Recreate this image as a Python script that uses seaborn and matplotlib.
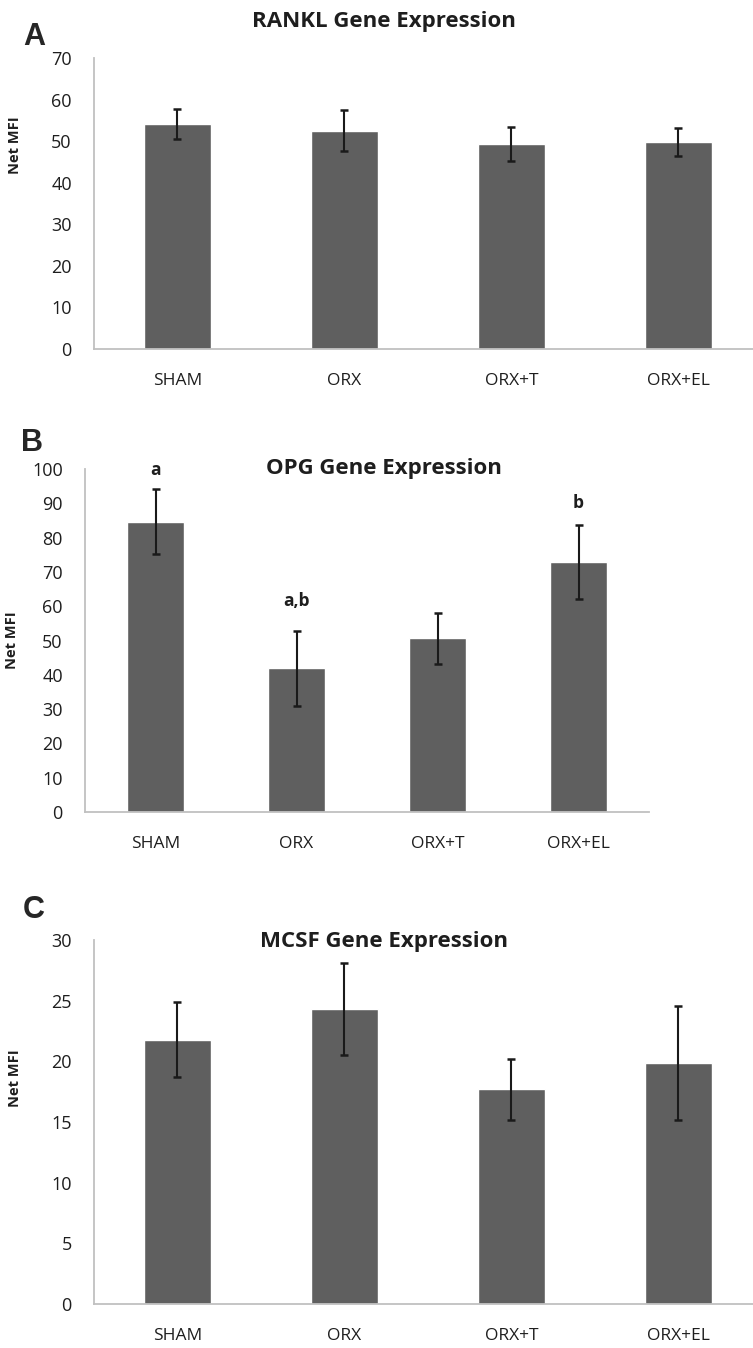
import numpy as np
import pandas as pd
import matplotlib
matplotlib.use("Agg")
import matplotlib.pyplot as plt
import seaborn as sns

# data
groups = ["SHAM", "ORX", "ORX+T", "ORX+EL"]

rankl_mean = [54.2, 52.5, 49.3, 49.8]
rankl_err = [3.6, 4.9, 4.2, 3.3]

opg_mean = [84.6, 41.9, 50.6, 73.0]
opg_err = [9.5, 11.0, 7.5, 10.8]
opg_sig = ["a", "a,b", "", "b"]
opg_sig_y = [97.0, 59.0, 0, 87.5]

mcsf_mean = [21.8, 24.3, 17.7, 19.9]
mcsf_err = [3.1, 3.8, 2.5, 4.7]

sns.set_style("white")
plt.rcParams["font.family"] = ["Open Sans", "DejaVu Sans"]

BAR = "#5f5f5f"
SPINE = "#c0c0c0"
TXT = "#1e1e1e"

fig = plt.figure(figsize=(7.53, 13.48), dpi=100)

# panel layout: [left, bottom, width, height] in figure fractions
panels = [
    dict(pos=[0.1248, 0.7411, 0.887, 0.2159], mean=rankl_mean, err=rankl_err,
         ymax=70, step=10, title="RANKL Gene Expression", title_y=0.9837,
         letter="A", letter_xy=(0.045, 0.9726), ylab=(-0.108, 0.70)),
    dict(pos=[0.1129, 0.3976, 0.749, 0.2545], mean=opg_mean, err=opg_err,
         ymax=100, step=10, title="OPG Gene Expression", title_y=0.6528,
         letter="B", letter_xy=(0.043, 0.6714), ylab=(-0.117, 0.5)),
    dict(pos=[0.1248, 0.03264, 0.887, 0.2700], mean=mcsf_mean, err=mcsf_err,
         ymax=30, step=5, title="MCSF Gene Expression", title_y=0.3012,
         letter="C", letter_xy=(0.045, 0.325), ylab=(-0.108, 0.62)),
]

for i, p in enumerate(panels):
    ax = fig.add_axes(p["pos"])
    df = pd.DataFrame({"group": groups, "value": p["mean"]})
    sns.barplot(data=df, x="group", y="value", color=BAR, saturation=1,
                width=0.4, errorbar=None, ax=ax)
    ax.errorbar(np.arange(len(groups)), p["mean"], yerr=p["err"], fmt="none",
                ecolor="#1a1a1a", elinewidth=1.5, capsize=3, capthick=1.8)

    ax.set_xlim(-0.5, len(groups) - 0.5)
    ax.set_ylim(0, p["ymax"])
    ax.set_yticks(np.arange(0, p["ymax"] + 1, p["step"]))
    ax.set_xticks(np.arange(-0.5, len(groups), 1.0), minor=True)
    ax.tick_params(axis="x", which="major", length=0, pad=17, labelsize=12.5,
                   labelcolor=TXT)
    ax.tick_params(axis="x", which="minor", length=7, width=1.1, color=SPINE)
    ax.tick_params(axis="y", length=5, width=1.1, color=SPINE, pad=11,
                   labelsize=13, labelcolor=TXT)
    for side in ["top", "right"]:
        ax.spines[side].set_visible(False)
    for side in ["left", "bottom"]:
        ax.spines[side].set_color(SPINE)
        ax.spines[side].set_linewidth(1.3)

    ax.set_xlabel("")
    ax.set_ylabel("Net MFI", fontsize=10.5, fontweight="bold", color=TXT)
    ax.yaxis.set_label_coords(*p["ylab"])

    fig.text(0.51, p["title_y"], p["title"], ha="center", va="center",
             fontsize=16, fontweight="bold", color=TXT)
    fig.text(*p["letter_xy"], p["letter"], ha="center", va="center",
             fontsize=22, fontweight="bold", family="Liberation Sans")

    if i == 1:
        for x, (lab, y) in enumerate(zip(opg_sig, opg_sig_y)):
            if lab:
                ax.text(x, y, lab, ha="center", va="bottom", fontsize=12.5,
                        fontweight="bold", color=TXT)

fig.savefig("out.png", dpi=100)
